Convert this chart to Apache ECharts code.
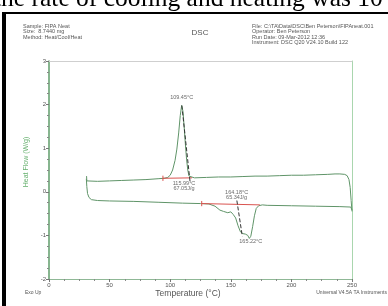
<!DOCTYPE html>
<html>
<head>
<meta charset="utf-8">
<script src="https://cdn.jsdelivr.net/npm/echarts@6/dist/echarts.min.js"></script>
<style>
html, body { margin: 0; padding: 0; background: #fff; }
#chart { width: 388px; height: 306px; }
</style>
</head>
<body>
<div id="chart"></div>
<script>
// first curve (crystallisation peak), temperature in C and heat flow in W/g
const upperT = [31, 31.2, 32, 40, 50, 60, 70, 80, 90, 95, 98, 100, 102, 104, 105.5, 107, 108.3, 109.45, 110.5, 111.5, 112.5, 113.5, 114.5, 115.5, 117, 120, 130, 140, 150, 160, 170, 180, 190, 200, 210, 220, 230, 236, 240, 244, 246, 247.5, 248.5, 249.3, 250];
const upperHF = [0.36, 0.25, 0.23, 0.24, 0.25, 0.26, 0.27, 0.28, 0.3, 0.31, 0.33, 0.38, 0.5, 0.72, 0.98, 1.35, 1.75, 1.98, 1.85, 1.5, 1.1, 0.75, 0.5, 0.36, 0.32, 0.32, 0.33, 0.34, 0.34, 0.35, 0.36, 0.36, 0.37, 0.38, 0.38, 0.39, 0.40, 0.41, 0.41, 0.40, 0.37, 0.28, 0.1, -0.2, -0.45];

// second curve (melting dip)
const lowerT = [30.8, 31.2, 31.8, 33, 35, 40, 50, 70, 90, 110, 125, 132, 137, 141, 144, 147.5, 150, 152, 154, 156, 158, 160, 162, 164, 165.3, 166.5, 168, 169.5, 171, 173, 176, 180, 200, 220, 240, 249, 250];
const lowerHF = [0.3, 0.12, -0.04, -0.13, -0.18, -0.2, -0.21, -0.22, -0.24, -0.26, -0.27, -0.28, -0.33, -0.42, -0.45, -0.48, -0.46, -0.52, -0.6, -0.78, -0.92, -0.96, -0.97, -1.0, -1.07, -1.02, -0.8, -0.55, -0.38, -0.32, -0.3, -0.31, -0.32, -0.33, -0.34, -0.35, -0.42];

// integration baselines and onset tangents
const peakBaseT = [94, 118];
const peakBaseHF = [0.31, 0.32];
const peakTickT = [94, 94];
const peakTickHF = [0.25, 0.37];
const dipBaseT = [126, 174];
const dipBaseHF = [-0.27, -0.3];
const dipTickT = [126, 126];
const dipTickHF = [-0.21, -0.33];
const peakTanT = [109.6, 116.5];
const peakTanHF = [1.98, 0.2];
const dipTanT = [155, 159.5];
const dipTanHF = [-0.2, -1.02];

// annotation texts and where they sit
const noteText = ['109.45°C', '115.99°C\n67.05J/g', '164.18°C\n65.34J/g', '165.22°C'];
const noteT = [109.45, 111.4, 154.8, 166.5];
const noteHF = [2.16, 0.14, -0.08, -1.14];

const zip = (a, b) => a.map((v, i) => [v, b[i]]);

const chart = echarts.init(document.getElementById('chart'));

const green = '#5f9468';
const red = '#d9534f';
const small = 'Liberation Sans, Arial, sans-serif';

function seg(t, hf, color, type) {
    return {
        type: 'line',
        data: zip(t, hf),
        showSymbol: false,
        silent: true,
        lineStyle: { color: color, width: 1, type: type || 'solid' }
    };
}

chart.setOption({
    animation: false,
    grid: { left: 49, right: 36, top: 61, bottom: 27 },
    xAxis: [{
        type: 'value',
        min: 0,
        max: 250,
        interval: 50,
        axisLine: { onZero: false, lineStyle: { color: '#8fb896' } },
        axisTick: { length: 3, lineStyle: { color: '#777' } },
        minorTick: { show: true, splitNumber: 4, length: 2, lineStyle: { color: '#888' } },
        splitLine: { show: false },
        axisLabel: { fontSize: 6, color: '#555', margin: 3, fontFamily: small }
    }, {
        type: 'value',
        position: 'top',
        min: 0,
        max: 250,
        axisLine: { show: true, onZero: false, lineStyle: { color: '#cfcfcf' } },
        axisTick: { show: false },
        axisLabel: { show: false },
        splitLine: { show: false }
    }],
    yAxis: [{
        type: 'value',
        min: -2,
        max: 3,
        interval: 1,
        name: 'Heat Flow (W/g)',
        nameLocation: 'middle',
        nameGap: 17,
        nameTextStyle: { color: '#66b06e', fontSize: 7, fontFamily: small, padding: [0, 0, 0, 16] },
        axisLine: { show: true, onZero: false, lineStyle: { color: '#5f9c6a', width: 1.5 } },
        axisTick: { length: 3, lineStyle: { color: '#777' } },
        minorTick: { show: true, splitNumber: 4, length: 2, lineStyle: { color: '#888' } },
        splitLine: { show: false },
        axisLabel: { fontSize: 6, color: '#555', margin: 3, fontFamily: small }
    }, {
        type: 'value',
        position: 'right',
        min: -2,
        max: 3,
        axisLine: { show: true, onZero: false, lineStyle: { color: '#a9d6ae' } },
        axisTick: { show: false },
        axisLabel: { show: false },
        splitLine: { show: false }
    }],
    series: [
        seg(upperT, upperHF, green),
        seg(lowerT, lowerHF, green),
        seg(peakBaseT, peakBaseHF, red),
        seg(peakTickT, peakTickHF, red),
        seg(dipBaseT, dipBaseHF, red),
        seg(dipTickT, dipTickHF, red),
        seg(peakTanT, peakTanHF, '#333', 'dashed'),
        seg(dipTanT, dipTanHF, '#333', 'dashed'),
        {
            type: 'scatter',
            symbolSize: 0,
            silent: true,
            data: noteT.map((t, i) => ({ value: [t, noteHF[i]], name: noteText[i] })),
            label: {
                show: true,
                position: 'inside',
                formatter: p => p.name,
                fontSize: 5.5,
                lineHeight: 5,
                color: '#444',
                fontFamily: small
            }
        }
    ],
    graphic: [
        // scanned page edge
        { type: 'rect', shape: { x: 2, y: 12, width: 386, height: 2 }, style: { fill: '#000' } },
        { type: 'rect', shape: { x: 2, y: 12, width: 4, height: 294 }, style: { fill: '#000' } },
        { type: 'text', style: { text: 'the rate of cooling and heating was 10', x: -6, y: 12, font: '25.5px "Liberation Serif", serif', lineHeight: 26, fill: '#000', verticalAlign: 'bottom' } },
        // header
        { type: 'text', style: { text: 'Sample: FIPA Neat\nSize:  8.7440 mg\nMethod: Heat/Cool/Heat', x: 23, y: 24, font: '5.5px ' + small, lineHeight: 5.3, fill: '#555' } },
        { type: 'text', style: { text: 'DSC', x: 200, y: 33, font: '8px ' + small, fill: '#555', align: 'center', verticalAlign: 'middle' } },
        { type: 'text', style: { text: 'File: C:\\TA\\Data\\DSC\\Ben Peterson\\FIPAneat.001\nOperator: Ben Peterson\nRun Date: 09-Mar-2012 12:36\nInstrument: DSC Q20 V24.10 Build 122', x: 252, y: 24, font: '5.5px ' + small, lineHeight: 5.3, fill: '#555' } },
        // footer
        { type: 'text', style: { text: 'Exo Up', x: 25, y: 293, font: '5px ' + small, fill: '#555', verticalAlign: 'middle' } },
        { type: 'text', style: { text: 'Temperature (°C)', x: 188, y: 294, font: '8.5px ' + small, fill: '#555', align: 'center', verticalAlign: 'middle' } },
        { type: 'text', style: { text: 'Universal V4.5A TA Instruments', x: 387, y: 293, font: '5px ' + small, fill: '#555', align: 'right', verticalAlign: 'middle' } }
    ]
});
</script>
</body>
</html>
